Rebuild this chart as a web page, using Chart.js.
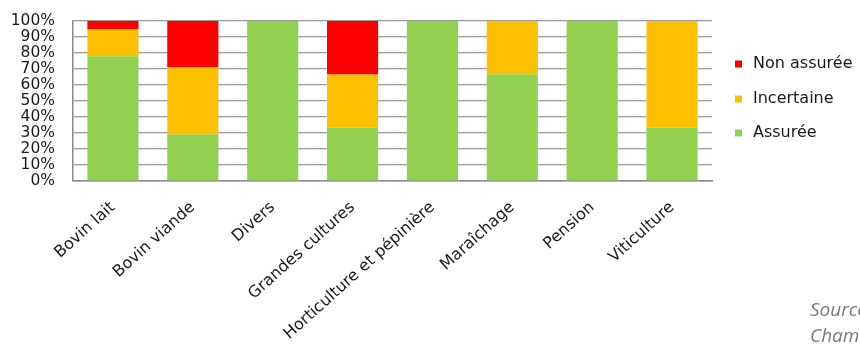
<!DOCTYPE html>
<html>
<head>
<meta charset="utf-8">
<script src="https://cdn.jsdelivr.net/npm/chart.js@4/dist/chart.umd.min.js"></script>
<style>
  html, body { margin: 0; padding: 0; background: #fff; overflow: hidden; }
  #wrap { position: relative; width: 860px; height: 347px; overflow: hidden; }
  #src { position: absolute; left: 810px; top: 296px; font: italic 19px "Open Sans", sans-serif; color: #7a7a7a; line-height: 26px; white-space: nowrap; }
</style>
</head>
<body>
<div id="wrap">
  <canvas id="c" width="860" height="347"></canvas>
  <div id="src">Source :<br>Chambre d'agriculture</div>
</div>
<script>
const categories = ["Bovin lait", "Bovin viande", "Divers", "Grandes cultures", "Horticulture et pépinière", "Maraîchage", "Pension", "Viticulture"];
const assuree    = [78, 29, 100, 33.3, 100, 66.7, 100, 33.3];
const incertaine = [17, 42, 0, 33.3, 0, 33.3, 0, 66.7];
const nonAssuree = [5, 29, 0, 33.4, 0, 0, 0, 0];
const seriesNames = ["Assurée", "Incertaine", "Non assurée"];
const yTicks = [0, 10, 20, 30, 40, 50, 60, 70, 80, 90, 100];

const colors = ["#92D050", "#FFC000", "#FF0000"];

const legendPlugin = {
  id: 'customLegend',
  afterDraw(chart) {
    const ctx = chart.ctx;
    const ds = chart.data.datasets;
    const x0 = 735, rowsY = [64, 99, 133];
    ctx.save();
    ctx.font = '16px "DejaVu Sans"';
    ctx.textBaseline = 'middle';
    ctx.textAlign = 'left';
    for (let k = 0; k < ds.length; k++) {
      const i = ds.length - 1 - k;
      const y = rowsY[k];
      ctx.fillStyle = ds[i].backgroundColor;
      ctx.fillRect(x0, y - 3.5, 7, 7);
      ctx.fillStyle = '#1a1a1a';
      ctx.fillText(ds[i].label, x0 + 18, y);
    }
    ctx.restore();
  }
};

new Chart(document.getElementById('c'), {
  type: 'bar',
  data: {
    labels: categories,
    datasets: [
      { label: seriesNames[0], data: assuree, backgroundColor: colors[0] },
      { label: seriesNames[1], data: incertaine, backgroundColor: colors[1] },
      { label: seriesNames[2], data: nonAssuree, backgroundColor: colors[2] }
    ]
  },
  options: {
    responsive: false,
    maintainAspectRatio: false,
    animation: false,
    devicePixelRatio: 1,
    layout: { padding: { top: 21, right: 148, left: 0, bottom: 0 } },
    datasets: { bar: { categoryPercentage: 1.0, barPercentage: 0.64 } },
    plugins: { legend: { display: false }, tooltip: { enabled: false } },
    scales: {
      x: {
        stacked: true,
        grid: { display: false, drawTicks: false },
        border: { display: true, color: '#8a8a8a', width: 1.5 },
        ticks: {
          color: '#1a1a1a',
          font: { family: 'DejaVu Sans', size: 16 },
          minRotation: 42, maxRotation: 42,
          autoSkip: false,
          padding: 17
        },
        afterFit(s) { s.height = 166; }
      },
      y: {
        stacked: true,
        min: 0, max: 100,
        afterBuildTicks(s) { s.ticks = yTicks.map(v => ({ value: v })); },
        grid: { color: '#9a9a9a', lineWidth: 1.2, drawTicks: false },
        border: { display: true, color: '#8a8a8a', width: 1.5 },
        ticks: {
          color: '#1a1a1a',
          font: { family: 'DejaVu Sans', size: 15.5, lineHeight: 1 },
          autoSkip: false,
          padding: 18,
          callback: v => v + '%'
        },
        afterFit(s) { s.width = 73; s.paddingTop = 0; s.paddingBottom = 0; }
      }
    }
  },
  plugins: [legendPlugin]
});
</script>
</body>
</html>
